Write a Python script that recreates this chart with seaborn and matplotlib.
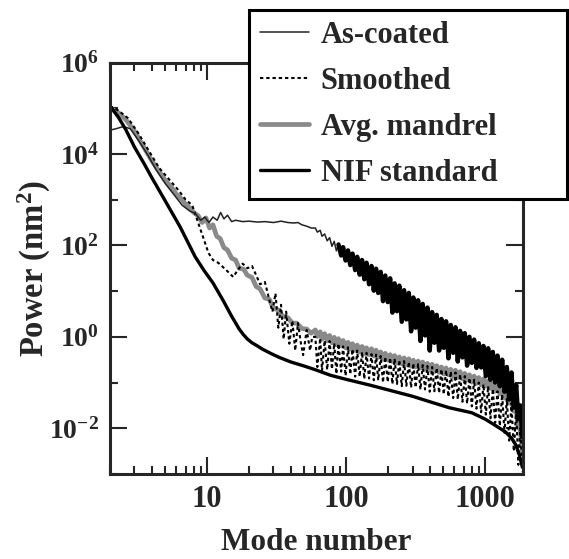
"""
Power spectra of capsule surfaces vs. mode number, with the NIF standard.
"""
import matplotlib
matplotlib.use("Agg")
import matplotlib.pyplot as plt
import matplotlib.ticker as mticker
import numpy as np
import seaborn as sns

# --- data (values are log10 of power in nm^2) ---
nif_modes = [2, 2.3, 2.6, 3, 3.5, 4, 5, 6.4, 8.2, 9.5, 11, 13, 15, 17, 18.2, 19.5, 21, 23,
             25, 29, 33, 40, 50, 60, 77, 100, 150, 200, 300, 400, 550, 800, 1000, 1200,
             1400, 1550, 1650, 1750, 1850]
nif_log = [5.05, 4.8, 4.53, 4.15, 3.8, 3.48, 2.97, 2.40, 1.75, 1.45, 1.18, 0.8, 0.45, 0.17,
           0.05, -0.05, -0.13, -0.2, -0.27, -0.37, -0.45, -0.55, -0.64, -0.72, -0.84,
           -0.93, -1.06, -1.16, -1.3, -1.42, -1.55, -1.66, -1.8, -1.95, -2.08, -2.22,
           -2.35, -2.55, -2.85]

coated_modes = [2, 2.2, 2.5, 2.8, 3.2, 3.7, 4.3, 5, 5.8, 6.6, 7.5, 8.2, 9, 9.6, 10.3, 11,
                11.8, 12.5, 13.2, 14, 15, 16, 18, 20, 23, 26, 30, 34, 38, 42, 45, 48, 52, 56]
coated_log = [4.52, 4.55, 4.6, 4.55, 4.3, 4.0, 3.65, 3.35, 3.1, 2.88, 2.75, 2.7, 2.55, 2.62,
              2.5, 2.62, 2.55, 2.72, 2.58, 2.66, 2.52, 2.55, 2.52, 2.53, 2.51, 2.52, 2.5,
              2.53, 2.5, 2.49, 2.5, 2.45, 2.42, 2.38]

smooth_modes = [2, 2.3, 2.7, 3.2, 3.77, 4.5, 5.3, 6.2, 7.0, 7.8, 8.5, 9.3, 10.2, 11, 12,
                13.5, 15.4, 16.5, 18, 19.5, 21, 22.5, 24, 26, 28, 29.5, 31, 32.5, 34, 35.5,
                37, 39, 41, 43, 45, 47, 49, 52, 55, 57]
smooth_log = [5.05, 4.95, 4.78, 4.45, 4.09, 3.7, 3.45, 3.21, 3.0, 2.88, 2.55, 2.2, 1.84,
              1.68, 1.62, 1.48, 1.31, 1.45, 1.6, 1.5, 1.55, 1.35, 1.15, 1.2, 0.81, 0.55,
              0.95, 0.2, 0.7, -0.05, 0.55, -0.15, 0.35, -0.3, 0.3, -0.1, -0.4, 0.15, -0.3, 0.0]

mandrel_modes = [2, 2.3, 2.6, 3, 3.5, 4, 4.5, 5, 5.5, 6, 6.5, 7, 7.5, 8, 8.6, 9.2, 9.8, 10.4,
                 11, 11.7, 12.4, 13.2, 14, 15, 16, 17, 18.3, 19.4, 21, 22.5, 24, 26, 28, 30,
                 32, 35, 38, 41, 44, 48, 52, 56]
mandrel_log = [5.0, 4.9, 4.75, 4.5, 4.15, 3.85, 3.62, 3.42, 3.28, 3.12, 3.02, 2.9, 2.82,
               2.72, 2.65, 2.5, 2.6, 2.38, 2.45, 2.2, 2.15, 1.95, 1.9, 1.72, 1.68, 1.5, 1.48,
               1.35, 1.3, 1.1, 1.05, 0.85, 0.82, 0.62, 0.6, 0.45, 0.42, 0.3, 0.3, 0.18, 0.17,
               0.08]

# noisy high-mode part, shared mode grid
band_modes = [60, 62, 65, 67, 70, 73, 76, 79, 82, 85, 88, 92, 95, 99, 103, 107, 111, 116,
              120, 125, 130, 135, 140, 146, 152, 158, 164, 170, 177, 184, 191, 199, 207,
              215, 223, 232, 241, 251, 261, 271, 282, 293, 304, 316, 329, 342, 355, 369,
              384, 399, 415, 431, 448, 466, 484, 503, 523, 544, 565, 588, 611, 635, 660,
              686, 713, 741, 770, 801, 832, 865, 899, 935, 971, 1010, 1050, 1091, 1134,
              1179, 1225, 1274, 1324, 1376, 1430, 1487, 1545, 1606, 1670, 1730, 1790, 1850]
coated_band = [2.38, 2.29, 2.33, 2.20, 2.25, 2.10, 2.17, 1.98, 2.09, 1.88,
               2.02, 1.78, 1.96, 1.67, 1.89, 1.57, 1.82, 1.46, 1.75, 1.36,
               1.68, 1.26, 1.62, 1.15, 1.55, 1.01, 1.49, 0.96, 1.42, 0.78,
               1.34, 0.76, 1.28, 0.53, 1.17, 0.56, 1.12, 0.33, 1.02, 0.38,
               0.96, 0.12, 0.86, 0.20, 0.80, -0.09, 0.72, 0.03, 0.64, -0.30,
               0.54, -0.13, 0.48, -0.30, 0.39, -0.24, 0.34, -0.47, 0.26, -0.35,
               0.21, -0.54, 0.13, -0.45, 0.08, -0.63, 0.00, -0.57, -0.06, -0.68,
               -0.14, -0.67, -0.20, -0.86, -0.25, -0.94, -0.33, -1.00, -0.41, -1.08,
               -0.50, -1.20, -0.66, -1.37, -0.78, -1.55, -1.05, -1.80, -1.50, -2.20]
smooth_band = [0.00, -0.66, -0.03, -0.74, -0.08, -0.72, -0.09, -0.71, -0.14, -0.81,
               -0.15, -0.76, -0.21, -0.85, -0.23, -0.82, -0.27, -0.87, -0.30, -0.87,
               -0.33, -0.92, -0.35, -0.91, -0.38, -0.95, -0.39, -0.95, -0.42, -1.00,
               -0.44, -0.99, -0.46, -1.03, -0.48, -1.03, -0.51, -1.08, -0.53, -1.07,
               -0.55, -1.11, -0.58, -1.11, -0.60, -1.15, -0.62, -1.15, -0.64, -1.20,
               -0.66, -1.19, -0.68, -1.23, -0.71, -1.26, -0.73, -1.31, -0.76, -1.34,
               -0.78, -1.37, -0.82, -1.42, -0.86, -1.46, -0.90, -1.52, -0.94, -1.57,
               -1.00, -1.65, -1.04, -1.70, -1.08, -1.78, -1.14, -1.88, -1.19, -1.95,
               -1.26, -2.10, -1.36, -2.27, -1.45, -2.50, -1.60, -2.80, -2.00, -2.95]
mandrel_band = [0.15, 0.01, 0.11, -0.05, 0.07, -0.09, 0.03, -0.13, -0.01, -0.17,
                -0.04, -0.20, -0.08, -0.24, -0.12, -0.27, -0.15, -0.30, -0.18, -0.33,
                -0.21, -0.37, -0.24, -0.39, -0.26, -0.42, -0.29, -0.45, -0.33, -0.49,
                -0.36, -0.51, -0.39, -0.54, -0.41, -0.57, -0.44, -0.59, -0.46, -0.61,
                -0.48, -0.64, -0.51, -0.66, -0.53, -0.68, -0.55, -0.71, -0.58, -0.73,
                -0.60, -0.76, -0.63, -0.78, -0.66, -0.81, -0.68, -0.83, -0.71, -0.86,
                -0.73, -0.89, -0.76, -0.92, -0.80, -0.95, -0.83, -0.99, -0.86, -1.02,
                -0.89, -1.05, -0.92, -1.08, -0.96, -1.13, -1.02, -1.19, -1.08, -1.25,
                -1.15, -1.34, -1.25, -1.45, -1.39, -1.63, -1.61, -1.97, -2.05, -2.50]

y_major = [1e-2, 1e0, 1e2, 1e4, 1e6]
y_minor = [1e-3, 1e-1, 1e1, 1e3, 1e5]
legend_order = ["As-coated", "Smoothed", "Avg. mandrel", "NIF standard"]


def series(modes_lo, log_lo, log_band=None):
    """Join the low-mode part with the noisy band and go back from log10."""
    x = list(modes_lo) + (band_modes if log_band is not None else [])
    y = list(log_lo) + (list(log_band) if log_band is not None else [])
    return np.array(x, dtype=float), 10.0 ** np.array(y)


sns.set_style("ticks")
plt.rcParams["font.family"] = ["Liberation Serif", "DejaVu Serif"]
plt.rcParams["font.weight"] = "bold"
plt.rcParams["mathtext.default"] = "regular"

fig = plt.figure(figsize=(5.69, 5.59), dpi=100)
ax = fig.add_axes([110 / 569, 1 - 474 / 559, 413 / 569, 411.5 / 559])

x, y = series(mandrel_modes, mandrel_log, mandrel_band)
sns.lineplot(x=x, y=y, ax=ax, color="#8a8a8a", lw=3.4, estimator=None, sort=False,
             label="Avg. mandrel")
x, y = series(smooth_modes, smooth_log, smooth_band)
sns.lineplot(x=x, y=y, ax=ax, color="black", lw=1.5, estimator=None, sort=False,
             linestyle=(0, (1.6, 1.4)), label="Smoothed")
x, y = series(coated_modes, coated_log, coated_band)
sns.lineplot(x=x, y=y, ax=ax, color="#222222", lw=1.1, estimator=None, sort=False,
             label="As-coated")
# the noisy part of the as-coated spectrum looks like a dense dark band
sns.lineplot(x=band_modes[10:], y=10.0 ** np.array(coated_band[10:]), ax=ax,
             color="black", lw=3.2, estimator=None, sort=False, label="_band")
x, y = series(nif_modes, nif_log)
sns.lineplot(x=x, y=y, ax=ax, color="black", lw=2.4, estimator=None, sort=False,
             label="NIF standard")
ax.get_legend().remove()

ax.set_xscale("log")
ax.set_yscale("log")
ax.set_xlim(2, 1870)
ax.set_ylim(1e-3, 1e6)

ax.yaxis.set_major_locator(mticker.FixedLocator(y_major))
ax.yaxis.set_minor_locator(mticker.FixedLocator(y_minor))
ax.yaxis.set_major_formatter(
    mticker.FuncFormatter(lambda v, p: r"$10^{%d}$" % round(np.log10(v))))
ax.yaxis.set_minor_formatter(mticker.NullFormatter())
ax.xaxis.set_major_locator(mticker.FixedLocator([10, 100, 1000]))
ax.xaxis.set_minor_locator(mticker.LogLocator(base=10, subs=range(2, 10)))
ax.xaxis.set_major_formatter(mticker.FuncFormatter(lambda v, p: "%d" % v))
ax.xaxis.set_minor_formatter(mticker.NullFormatter())

ax.tick_params(which="both", direction="in", top=True, right=True, width=1.5, pad=8)
ax.tick_params(axis="x", labelsize=22)
ax.tick_params(axis="y", labelsize=20)
ax.tick_params(which="major", length=12)
ax.tick_params(which="minor", length=6)
for s in ax.spines.values():
    s.set_linewidth(2.2)

ax.set_xlabel("Mode number", fontsize=22.5, fontweight="bold", labelpad=10)
ax.set_ylabel("Power (nm$^2$)", fontsize=23.5, fontweight="bold", labelpad=-3)

handles, labels = ax.get_legend_handles_labels()
order = [labels.index(k) for k in legend_order]
leg = fig.legend([handles[i] for i in order], legend_order,
                 loc="upper left", bbox_to_anchor=(249 / 569, 1 - 200 / 559, 318 / 569, 190 / 559),
                 bbox_transform=fig.transFigure, mode="expand", borderaxespad=0,
                 fancybox=False, framealpha=1, edgecolor="black", handlelength=1.6,
                 handletextpad=0.4, labelspacing=0.56, borderpad=0.35,
                 prop={"weight": "bold", "size": 22})
leg.get_frame().set_linewidth(2.2)
leg.set_zorder(10)

fig.savefig("out.png", dpi=100)
